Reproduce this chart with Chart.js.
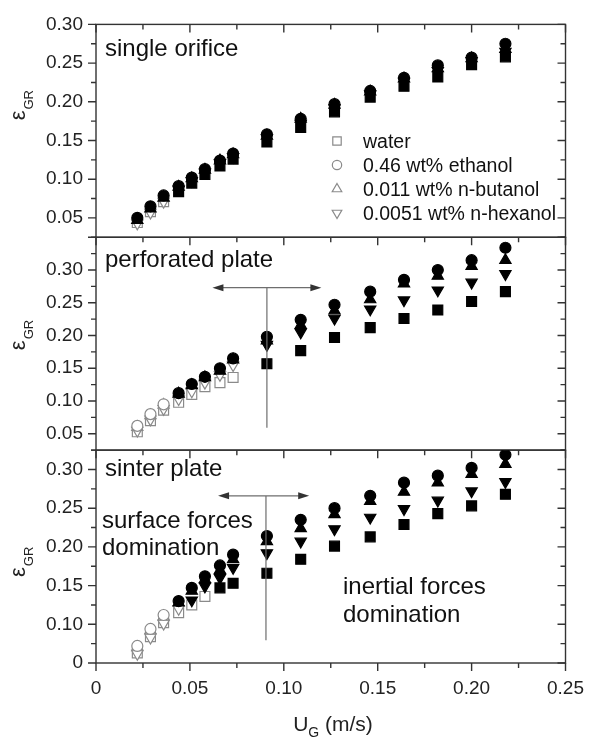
<!DOCTYPE html>
<html>
<head>
<meta charset="utf-8">
<script src="https://cdn.jsdelivr.net/npm/chart.js@4.4.1/dist/chart.umd.min.js"></script>
<style>
  html, body { margin: 0; padding: 0; background: #fff; }
  #wrap { width: 598px; height: 740px; position: relative; }
</style>
</head>
<body>
<div id="wrap"><canvas id="chart" width="598" height="740"></canvas></div>
<script>
// superficial gas velocity (m/s), same for every panel
const U_G = [0.022, 0.029, 0.036, 0.044, 0.051, 0.058, 0.066, 0.073, 0.091, 0.109, 0.127, 0.146, 0.164, 0.182, 0.200, 0.218];

const SERIES_NAMES = ["water", "0.46 wt% ethanol", "0.011 wt% n-butanol", "0.0051 wt% n-hexanol"];

// single orifice
const ORIFICE_WATER   = [0.044, 0.058, 0.071, 0.084, 0.095, 0.106, 0.117, 0.126, 0.148, 0.167, 0.187, 0.206, 0.220, 0.232, 0.248, 0.258];
const ORIFICE_ETHANOL = [0.050, 0.065, 0.079, 0.091, 0.102, 0.113, 0.124, 0.133, 0.158, 0.178, 0.197, 0.214, 0.231, 0.247, 0.257, 0.275];
const ORIFICE_BUTANOL = [0.047, 0.062, 0.076, 0.090, 0.101, 0.112, 0.124, 0.132, 0.156, 0.178, 0.196, 0.213, 0.230, 0.243, 0.256, 0.268];
const ORIFICE_HEXANOL = [0.043, 0.057, 0.071, 0.087, 0.098, 0.109, 0.121, 0.129, 0.153, 0.172, 0.192, 0.210, 0.226, 0.240, 0.253, 0.265];

// perforated plate
const PERF_WATER   = [0.053, 0.070, 0.086, 0.098, 0.110, 0.122, 0.128, 0.136, 0.157, 0.177, 0.197, 0.212, 0.226, 0.239, 0.252, 0.267];
const PERF_ETHANOL = [0.062, 0.080, 0.095, 0.112, 0.126, 0.137, 0.150, 0.165, 0.198, 0.224, 0.247, 0.267, 0.285, 0.300, 0.315, 0.334];
const PERF_BUTANOL = [0.060, 0.078, 0.094, 0.111, 0.124, 0.136, 0.146, 0.163, 0.192, 0.216, 0.238, 0.255, 0.279, 0.291, 0.306, 0.315];
const PERF_HEXANOL = [0.055, 0.072, 0.088, 0.103, 0.115, 0.128, 0.140, 0.155, 0.186, 0.205, 0.226, 0.240, 0.254, 0.269, 0.281, 0.294];

// sinter plate
const SINTER_WATER   = [0.063, 0.084, 0.102, 0.115, 0.125, 0.136, 0.147, 0.153, 0.166, 0.184, 0.201, 0.213, 0.229, 0.243, 0.253, 0.268];
const SINTER_ETHANOL = [0.072, 0.094, 0.112, 0.130, 0.147, 0.162, 0.176, 0.190, 0.214, 0.235, 0.250, 0.266, 0.283, 0.292, 0.302, 0.319];
const SINTER_BUTANOL = [0.070, 0.092, 0.110, 0.128, 0.143, 0.158, 0.170, 0.184, 0.207, 0.224, 0.242, 0.259, 0.271, 0.283, 0.294, 0.307];
const SINTER_HEXANOL = [0.062, 0.083, 0.101, 0.120, 0.131, 0.149, 0.160, 0.173, 0.192, 0.207, 0.223, 0.238, 0.249, 0.260, 0.272, 0.284];

// how many of the first points of each series are open symbols (water, ethanol, butanol, hexanol)
const ORIFICE_OPEN = [3, 0, 0, 3];
const PERF_OPEN = [8, 3, 3, 8];
const SINTER_OPEN = [6, 3, 3, 4];

const X_TICKS = [0, 0.05, 0.10, 0.15, 0.20, 0.25];
const X_TICK_LABELS = ["0", "0.05", "0.10", "0.15", "0.20", "0.25"];
const Y_TICKS = [0.05, 0.10, 0.15, 0.20, 0.25, 0.30];
const Y_TICK_LABELS = ["0.05", "0.10", "0.15", "0.20", "0.25", "0.30"];
const SINTER_TICK_LABELS = ["0", "0.10", "0.15", "0.20", "0.25", "0.30"];

const FONT = '"Liberation Sans", Arial, sans-serif';
const MARKERS = [
    { pointStyle: "rect", radius: 7, rotation: 0 },
    { pointStyle: "circle", radius: 5.5, rotation: 0 },
    { pointStyle: "triangle", radius: 6.5, rotation: 0 },
    { pointStyle: "triangle", radius: 6.5, rotation: 180 },
];

const PANELS = [
    { axis: "yOrifice", min: 0.025, max: 0.30, weight: 3, labels: Y_TICK_LABELS, titleAt: 0.195,
      series: [ORIFICE_WATER, ORIFICE_ETHANOL, ORIFICE_BUTANOL, ORIFICE_HEXANOL], open: ORIFICE_OPEN },
    { axis: "yPerf", min: 0.025, max: 0.35, weight: 2, labels: Y_TICK_LABELS, titleAt: 0.20,
      series: [PERF_WATER, PERF_ETHANOL, PERF_BUTANOL, PERF_HEXANOL], open: PERF_OPEN },
    { axis: "ySinter", min: 0.05, max: 0.325, weight: 1, labels: SINTER_TICK_LABELS, titleAt: 0.18,
      series: [SINTER_WATER, SINTER_ETHANOL, SINTER_BUTANOL, SINTER_HEXANOL], open: SINTER_OPEN },
];

// arrows: horizontal double arrow + vertical drop line, in axis units
const ARROWS = [
    { axis: "yPerf", y: 0.273, x1: 0.062, x2: 0.120, xv: 0.091, yv: 0.059 },
    { axis: "ySinter", y: 0.266, x1: 0.065, x2: 0.1135, xv: 0.0905, yv: 0.0795 },
];

const NOTES = [
    { text: "single orifice", x: 105, y: 56 },
    { text: "perforated plate", x: 105, y: 267 },
    { text: "sinter plate", x: 105, y: 476 },
    { text: "surface forces", x: 102, y: 528 },
    { text: "domination", x: 102, y: 555 },
    { text: "inertial forces", x: 343, y: 594 },
    { text: "domination", x: 343, y: 622 },
];

function buildDatasets() {
    const out = [];
    PANELS.forEach((p) => {
        p.series.forEach((vals, s) => {
            const m = MARKERS[s];
            const nOpen = p.open[s];
            out.push({
                label: SERIES_NAMES[s],
                yAxisID: p.axis,
                data: U_G.map((u, i) => ({ x: u, y: vals[i] })),
                showLine: false,
                order: [3, 0, 1, 2][s],
                pointStyle: m.pointStyle,
                pointRadius: m.radius,
                pointRotation: m.rotation,
                pointBorderWidth: 1.2,
                pointBackgroundColor: (c) => (c.dataIndex < nOpen ? "#fff" : "#000"),
                pointBorderColor: (c) => (c.dataIndex < nOpen ? "#8a8a8a" : "#000"),
            });
        });
    });
    return out;
}

function yScale(p) {
    return {
        type: "linear",
        position: "left",
        stack: "panels",
        stackWeight: 1,
        weight: p.weight,
        min: p.min,
        max: p.max,
        afterBuildTicks: (s) => { s.ticks = Y_TICKS.map((v) => ({ value: v })); },
        afterFit: (s) => { s.width = 96; },
        ticks: {
            autoSkip: false,
            padding: 13,
            color: "#222",
            font: { family: FONT, size: 19 },
            callback: (v, i) => p.labels[i],
        },
        grid: { display: false, drawTicks: false },
        border: { display: false },
    };
}

function minorSteps(min, max) {
    const vals = [];
    for (let v = Math.ceil(min / 0.025 - 1e-6) * 0.025; v <= max + 1e-9; v += 0.025) vals.push(+v.toFixed(4));
    return vals;
}

function isMajor(v) {
    return Math.abs(v / 0.05 - Math.round(v / 0.05)) < 1e-6;
}

function arrowHead(ctx, x, y, dir) {
    ctx.beginPath();
    ctx.moveTo(x, y);
    ctx.lineTo(x - dir * 11, y - 3.5);
    ctx.lineTo(x - dir * 11, y + 3.5);
    ctx.closePath();
    ctx.fill();
}

function legendMarker(ctx, m, x, y) {
    const opts = { pointStyle: m.pointStyle, rotation: m.rotation, radius: m.radius * 0.85, borderWidth: 1.2 };
    if (Chart.helpers && Chart.helpers.drawPoint) {
        Chart.helpers.drawPoint(ctx, opts, x, y);
    } else {
        ctx.beginPath();
        ctx.arc(x, y, opts.radius, 0, Math.PI * 2);
        ctx.fill();
        ctx.stroke();
    }
}

const framePlugin = {
    id: "frames",
    beforeDatasetsDraw(chart) {
        const ctx = chart.ctx;
        const xs = chart.scales.x;
        const { left, right } = chart.chartArea;
        ctx.save();
        ctx.strokeStyle = "#333";
        ctx.lineWidth = 1.4;
        PANELS.forEach((p, idx) => {
            const ys = chart.scales[p.axis];
            ctx.strokeRect(left, ys.top, right - left, ys.bottom - ys.top);
            ctx.beginPath();
            minorSteps(p.min, p.max).forEach((v) => {
                const py = ys.getPixelForValue(v);
                const len = isMajor(v) ? 8 : 5;
                ctx.moveTo(left, py); ctx.lineTo(left - len, py);
                ctx.moveTo(right, py); ctx.lineTo(right - len, py);
            });
            minorSteps(0, 0.25).forEach((v) => {
                const px = xs.getPixelForValue(v);
                const len = isMajor(v) ? 8 : 5;
                ctx.moveTo(px, ys.top); ctx.lineTo(px, ys.top + len);
                if (idx === PANELS.length - 1) {
                    ctx.moveTo(px, ys.bottom); ctx.lineTo(px, ys.bottom + len);
                }
            });
            ctx.stroke();
        });
        ctx.restore();
    },
    afterDatasetsDraw(chart) {
        const ctx = chart.ctx;
        const xs = chart.scales.x;
        ctx.save();

        // drop lines and arrows
        ARROWS.forEach((a) => {
            const ys = chart.scales[a.axis];
            const y = ys.getPixelForValue(a.y);
            const x1 = xs.getPixelForValue(a.x1);
            const x2 = xs.getPixelForValue(a.x2);
            const xv = xs.getPixelForValue(a.xv);
            ctx.strokeStyle = "#6e6e6e";
            ctx.lineWidth = 1.2;
            ctx.beginPath();
            ctx.moveTo(x1 + 8, y); ctx.lineTo(x2 - 8, y);
            ctx.moveTo(xv, y); ctx.lineTo(xv, ys.getPixelForValue(a.yv));
            ctx.stroke();
            ctx.fillStyle = "#333";
            arrowHead(ctx, x1, y, -1);
            arrowHead(ctx, x2, y, 1);
        });

        // panel notes
        ctx.fillStyle = "#111";
        ctx.font = `24px ${FONT}`;
        ctx.textAlign = "left";
        ctx.textBaseline = "alphabetic";
        NOTES.forEach((n) => ctx.fillText(n.text, n.x, n.y));

        // legend (open symbols) in the top panel
        ctx.font = `19.5px ${FONT}`;
        SERIES_NAMES.forEach((name, i) => {
            const y = 141 + i * 24;
            ctx.fillStyle = "#fff";
            ctx.strokeStyle = "#8a8a8a";
            ctx.lineWidth = 1.2;
            legendMarker(ctx, MARKERS[i], 337, y);
            ctx.fillStyle = "#111";
            ctx.fillText(name, 363, y + 7);
        });

        // y titles: epsilon with subscript GR
        PANELS.forEach((p) => {
            const ys = chart.scales[p.axis];
            ctx.save();
            ctx.translate(25, ys.getPixelForValue(p.titleAt));
            ctx.rotate(-Math.PI / 2);
            ctx.font = `22px ${FONT}`;
            const w1 = ctx.measureText("ε").width;
            ctx.font = `13px ${FONT}`;
            const w2 = ctx.measureText("GR").width;
            const x0 = -(w1 + w2) / 2;
            ctx.fillStyle = "#222";
            ctx.font = `22px ${FONT}`;
            ctx.fillText("ε", x0, 0);
            ctx.font = `13px ${FONT}`;
            ctx.fillText("GR", x0 + w1 + 1, 8);
            ctx.restore();
        });

        // x title: U_G (m/s)
        ctx.fillStyle = "#222";
        ctx.font = `21px ${FONT}`;
        const wU = ctx.measureText("U").width;
        const wRest = ctx.measureText(" (m/s)").width;
        ctx.font = `14px ${FONT}`;
        const wG = ctx.measureText("G").width;
        let tx = 333 - (wU + wG + wRest) / 2;
        const ty = 731;
        ctx.font = `21px ${FONT}`;
        ctx.fillText("U", tx, ty);
        ctx.font = `14px ${FONT}`;
        ctx.fillText("G", tx + wU, ty + 6);
        ctx.font = `21px ${FONT}`;
        ctx.fillText(" (m/s)", tx + wU + wG, ty);

        ctx.restore();
    },
};

const scales = {
    x: {
        type: "linear",
        min: 0,
        max: 0.25,
        afterBuildTicks: (s) => { s.ticks = X_TICKS.map((v) => ({ value: v })); },
        afterFit: (s) => { s.height = 77; },
        ticks: {
            autoSkip: false,
            maxRotation: 0,
            padding: 14,
            color: "#222",
            font: { family: FONT, size: 19 },
            callback: (v, i) => X_TICK_LABELS[i],
        },
        grid: { display: false, drawTicks: false },
        border: { display: false },
    },
};
PANELS.forEach((p) => { scales[p.axis] = yScale(p); });

new Chart(document.getElementById("chart"), {
    type: "scatter",
    data: { datasets: buildDatasets() },
    options: {
        responsive: false,
        animation: false,
        layout: { padding: { top: 23, right: 20, left: 0, bottom: 0 } },
        plugins: { legend: { display: false }, tooltip: { enabled: false } },
        scales,
    },
    plugins: [framePlugin],
});
</script>
</body>
</html>
